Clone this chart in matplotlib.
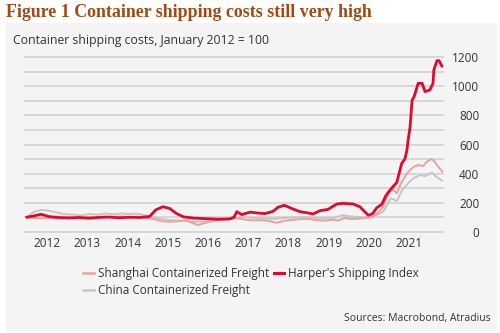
import matplotlib.pyplot as plt
from matplotlib.lines import Line2D
from matplotlib.patches import Rectangle

# Container freight indices, January 2012 = 100 (x in decimal years)
harpex_t = [2012.00, 2012.15, 2012.35, 2012.55, 2012.80, 2013.05, 2013.30, 2013.55,
            2013.80, 2014.05, 2014.30, 2014.55, 2014.80, 2015.05, 2015.20, 2015.38,
            2015.55, 2015.72, 2015.90, 2016.15, 2016.45, 2016.75, 2017.05, 2017.15,
            2017.22, 2017.34, 2017.55, 2017.72, 2017.92, 2018.12, 2018.24, 2018.40,
            2018.62, 2018.79, 2019.04, 2019.11, 2019.29, 2019.49, 2019.61, 2019.71,
            2019.86, 2020.11, 2020.28, 2020.49, 2020.60, 2020.70, 2020.83, 2020.92,
            2021.03, 2021.20, 2021.32, 2021.40, 2021.45, 2021.48, 2021.53, 2021.58,
            2021.63, 2021.73, 2021.83, 2021.90, 2022.02, 2022.10, 2022.12, 2022.20,
            2022.25, 2022.32]
harpex_v = [100, 108, 120, 104, 98, 95, 98, 93,
            99, 101, 96, 100, 98, 105, 150, 172,
            160, 125, 102, 94, 90, 86, 88, 100,
            138, 118, 135, 129, 125, 140, 168, 182,
            156, 138, 127, 122, 145, 154, 175, 191,
            195, 191, 172, 113, 125, 165, 190, 245,
            287, 340, 470, 500, 560, 630, 723, 906,
            929, 1021, 1021, 964, 975, 1021, 1113, 1177,
            1177, 1140]

shanghai_t = [2012.00, 2012.15, 2012.35, 2012.55, 2012.75, 2012.95, 2013.15, 2013.35,
              2013.55, 2013.75, 2013.95, 2014.15, 2014.35, 2014.55, 2014.75, 2014.95,
              2015.15, 2015.35, 2015.55, 2015.75, 2015.95, 2016.10, 2016.25, 2016.45,
              2016.65, 2016.85, 2017.05, 2017.25, 2017.45, 2017.65, 2017.85, 2018.05,
              2018.20, 2018.40, 2018.60, 2018.80, 2019.00, 2019.20, 2019.40, 2019.60,
              2019.75, 2019.90, 2020.05, 2020.25, 2020.45, 2020.60, 2020.70, 2020.86,
              2020.95, 2021.03, 2021.12, 2021.20, 2021.28, 2021.36, 2021.45, 2021.61,
              2021.73, 2021.86, 2021.94, 2022.05, 2022.12, 2022.20, 2022.33]
shanghai_v = [100, 95, 92, 96, 90, 95, 100, 94,
              102, 96, 104, 97, 106, 99, 103, 96,
              88, 72, 69, 72, 80, 62, 46, 62,
              75, 85, 95, 92, 82, 78, 80, 72,
              62, 75, 82, 86, 88, 80, 76, 82,
              78, 95, 88, 90, 96, 100, 122, 168,
              237, 280, 287, 264, 320, 360, 402, 445,
              459, 452, 480, 500, 490, 459, 413]

china_t = [2012.00, 2012.15, 2012.35, 2012.55, 2012.75, 2012.95, 2013.15, 2013.35,
           2013.55, 2013.75, 2013.95, 2014.15, 2014.35, 2014.55, 2014.75, 2014.95,
           2015.15, 2015.35, 2015.55, 2015.75, 2015.95, 2016.15, 2016.35, 2016.55,
           2016.75, 2016.95, 2017.15, 2017.40, 2017.65, 2017.90, 2018.15, 2018.40,
           2018.65, 2018.90, 2019.15, 2019.40, 2019.65, 2019.85, 2020.05, 2020.30,
           2020.55, 2020.70, 2020.86, 2020.95, 2021.05, 2021.20, 2021.33, 2021.50,
           2021.61, 2021.78, 2021.90, 2022.07, 2022.17, 2022.33]
china_v = [100, 135, 150, 145, 132, 120, 118, 112,
           122, 118, 125, 120, 126, 122, 125, 112,
           100, 88, 80, 78, 72, 68, 70, 78,
           80, 85, 95, 100, 95, 92, 88, 95,
           98, 100, 95, 92, 96, 115, 105, 100,
           100, 115, 138, 180, 230, 211, 287, 340,
           367, 390, 383, 406, 380, 351]

years = list(range(2012, 2022))
y_ticks = list(range(0, 1201, 200))

PANEL = "#f4f4f4"
GRID = "#d4d4d4"
TEXT = "#333333"
RED = "#e3072b"
PINK = "#e8a39c"
GREY = "#c6c6c6"

plt.rcParams["font.family"] = ["Open Sans", "DejaVu Sans"]

fig = plt.figure(figsize=(5, 3.33), dpi=100)
# light grey card behind everything except the title
fig.patches.append(Rectangle((0.012, 0.004), 0.982, 0.927, transform=fig.transFigure,
                             facecolor=PANEL, edgecolor="none", zorder=-10))

ax = fig.add_axes([0.048, 0.2997, 0.84, 0.5326])
ax.set_facecolor("none")
ax.set_zorder(1)

ax.plot(china_t, china_v, color=GREY, lw=1.4, zorder=3)
ax.plot(shanghai_t, shanghai_v, color=PINK, lw=1.4, zorder=4)
ax.plot(harpex_t, harpex_v, color=RED, lw=2.0, zorder=5)

ax.set_xlim(2011.925, 2022.373)
ax.set_ylim(-10, 1210)

for v in range(0, 1201, 100):
    ax.axhline(v, color=GRID, lw=1.3, zorder=1)

ax.set_xticks([y + 0.5 for y in years])
ax.set_xticklabels([str(y) for y in years])
ax.set_yticks(y_ticks)
ax.yaxis.tick_right()
ax.tick_params(axis="both", length=0, labelsize=8.5, colors=TEXT)
ax.tick_params(axis="x", pad=3)
ax.tick_params(axis="y", pad=25.5)
for lab in ax.get_yticklabels():
    lab.set_ha("right")
for s in ax.spines.values():
    s.set_visible(False)

handles = [
    Line2D([], [], color=PINK, lw=1.8),
    Line2D([], [], color=GREY, lw=1.8),
    Line2D([], [], color=RED, lw=2.2),
]
labels = ["Shanghai Containerized Freight", "China Containerized Freight",
          "Harper's Shipping Index"]
fig.legend(handles, labels, ncol=2, loc="upper left", bbox_to_anchor=(0.155, 0.215),
           frameon=False, fontsize=8.5, handlelength=0.9, handletextpad=0.3,
           columnspacing=0.4, labelspacing=0.35, borderpad=0, labelcolor=TEXT)

fig.text(0.012, 0.962, "Figure 1 Container shipping costs still very high",
         family="Liberation Serif", weight="bold", fontsize=12.9, color="#a04a14",
         ha="left", va="center")
fig.text(0.026, 0.877, "Container shipping costs, January 2012 = 100",
         fontsize=8.8, color=TEXT, ha="left", va="center")
fig.text(0.982, 0.045, "Sources: Macrobond, Atradius",
         fontsize=7.5, color=TEXT, ha="right", va="center")

fig.savefig("out.png", dpi=100)
